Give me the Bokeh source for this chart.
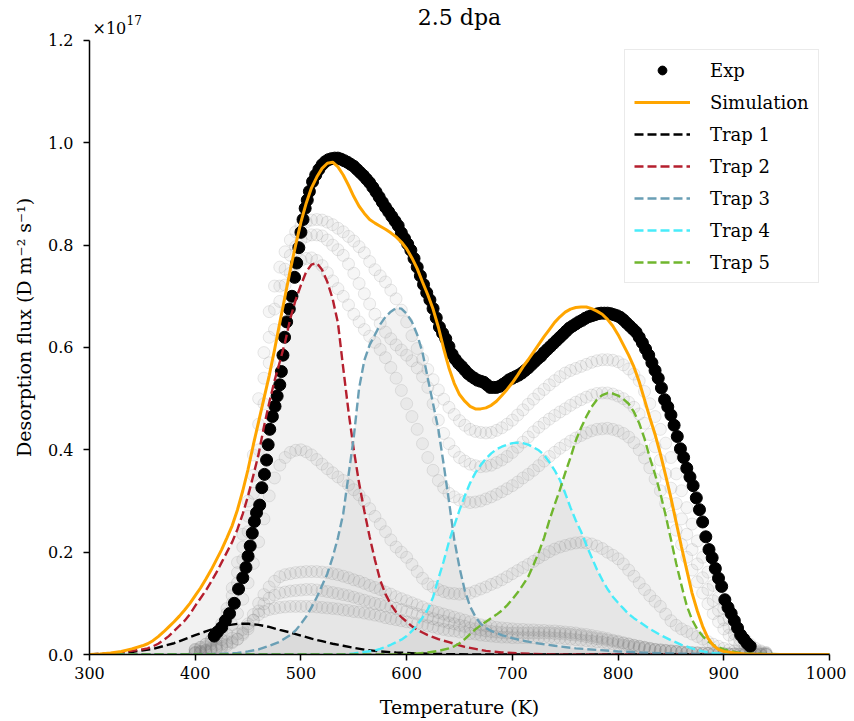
from bokeh.plotting import figure
from bokeh.models import Range1d, Label, Legend, LegendItem, FixedTicker, PrintfTickFormatter
from bokeh.embed import file_html
from bokeh.resources import INLINE

FONT = "DejaVu Serif"

# ---------------- data (values in units of 1e17 D m^-2 s^-1) ----------------
EXP_T = [418, 421, 425, 428.5, 432.5, 437, 441, 445, 448, 450,
         452, 454, 456, 458, 461, 463, 465.5, 467.5, 469, 470.5,
         473, 475.5, 477.5, 480, 481.5, 483, 484.5, 486.5, 489, 491.5,
         494, 496, 498, 500, 502, 504, 506, 508] + list(range(511, 926, 3))
EXP_V = [0.036, 0.044, 0.053, 0.066, 0.080, 0.100, 0.128, 0.150, 0.170, 0.192,
         0.212, 0.237, 0.260, 0.277, 0.292, 0.326, 0.352, 0.380, 0.410, 0.440,
         0.465, 0.485, 0.505, 0.527, 0.553, 0.585, 0.620, 0.650, 0.675, 0.700,
         0.737, 0.765, 0.795, 0.825, 0.850, 0.872, 0.888, 0.905] + [
    0.924, 0.937, 0.948, 0.957, 0.963, 0.967, 0.969, 0.970, 0.970,
    0.968, 0.965, 0.962, 0.958, 0.954, 0.948, 0.942, 0.936, 0.929, 0.922,
    0.913, 0.904, 0.894, 0.884, 0.874, 0.865, 0.856, 0.847, 0.838, 0.824,
    0.813, 0.802, 0.790, 0.774, 0.757, 0.740, 0.723, 0.707, 0.693, 0.676,
    0.658, 0.640, 0.628, 0.617, 0.602, 0.587, 0.577, 0.569, 0.563, 0.556,
    0.549, 0.544, 0.540, 0.536, 0.534, 0.532, 0.527, 0.522, 0.522, 0.522,
    0.524, 0.528, 0.532, 0.537, 0.540, 0.543, 0.546, 0.550, 0.555, 0.560,
    0.566, 0.572, 0.578, 0.583, 0.590, 0.596, 0.602, 0.608, 0.614, 0.620,
    0.626, 0.632, 0.638, 0.642, 0.646, 0.650, 0.653, 0.657, 0.660, 0.662,
    0.664, 0.666, 0.667, 0.667, 0.667, 0.666, 0.664, 0.662, 0.659, 0.654,
    0.648, 0.642, 0.636, 0.630, 0.620, 0.609, 0.597, 0.585, 0.570, 0.555,
    0.540, 0.521, 0.498, 0.484, 0.468, 0.448, 0.426, 0.402, 0.385, 0.364,
    0.347, 0.330, 0.306, 0.283, 0.259, 0.230, 0.205, 0.189, 0.168, 0.149,
    0.133, 0.107, 0.092, 0.080, 0.066, 0.052, 0.038, 0.030, 0.022, 0.016,
]

SIM_T = [300, 310, 320, 330, 340, 350] + list(range(355, 905, 5)) + [910, 920, 940, 1000]
SIM_V = [0.0, 0.001, 0.003, 0.006, 0.011, 0.017] + [
    0.021, 0.027, 0.035, 0.044, 0.054, 0.064, 0.075, 0.087, 0.100, 0.115,
    0.130, 0.147, 0.165, 0.185, 0.205, 0.228, 0.252, 0.283, 0.320, 0.362,
    0.410, 0.455, 0.500, 0.545, 0.595, 0.648, 0.700, 0.752, 0.800, 0.845,
    0.882, 0.912, 0.933, 0.950, 0.960, 0.962, 0.953, 0.937, 0.917, 0.895,
    0.876, 0.862, 0.850, 0.843, 0.837, 0.831, 0.824, 0.816, 0.806, 0.793,
    0.775, 0.754, 0.728, 0.703, 0.675, 0.640, 0.598, 0.560, 0.530, 0.508,
    0.495, 0.485, 0.480, 0.480, 0.482, 0.487, 0.495, 0.506, 0.518, 0.531,
    0.546, 0.562, 0.576, 0.591, 0.606, 0.621, 0.635, 0.649, 0.660, 0.669,
    0.675, 0.678, 0.679, 0.679, 0.676, 0.671, 0.665, 0.655, 0.642, 0.625,
    0.605, 0.585, 0.562, 0.533, 0.498, 0.463, 0.430, 0.392, 0.350, 0.306,
    0.258, 0.210, 0.165, 0.120, 0.085, 0.055, 0.032, 0.018, 0.010, 0.006,
] + [0.003, 0.001, 0.0, 0.0]

TRAP1_T = [300, 320, 340, 360, 380, 400, 410, 420, 430, 440,
           450, 460, 470, 480, 490, 500, 510, 520, 530, 540,
           550, 560, 575, 590, 610, 630, 660, 1000]
TRAP1_V = [0.0, 0.002, 0.005, 0.011, 0.022, 0.038, 0.045, 0.052, 0.057, 0.060,
           0.060, 0.058, 0.054, 0.048, 0.043, 0.037, 0.031, 0.026, 0.021, 0.017,
           0.013, 0.0095, 0.006, 0.004, 0.002, 0.001, 0.0, 0.0]

TRAP2_T = [300, 310, 320, 330, 340, 350] + list(range(355, 685, 5)) + [690, 700, 720, 750, 1000]
TRAP2_V = [0.0, 0.001, 0.002, 0.004, 0.007, 0.010] + [
    0.012, 0.016, 0.021, 0.028, 0.036, 0.046, 0.056, 0.066, 0.079, 0.095,
    0.110, 0.125, 0.142, 0.160, 0.180, 0.200, 0.220, 0.245, 0.275, 0.310,
    0.350, 0.392, 0.445, 0.492, 0.535, 0.572, 0.610, 0.657, 0.693, 0.722,
    0.748, 0.762, 0.765, 0.752, 0.728, 0.695, 0.648, 0.560, 0.475, 0.400,
    0.335, 0.280, 0.230, 0.185, 0.145, 0.118, 0.098, 0.083, 0.073, 0.064,
    0.055, 0.048, 0.043, 0.038, 0.034, 0.030, 0.027, 0.024, 0.021, 0.018,
    0.015, 0.013, 0.011, 0.009, 0.007, 0.006,
] + [0.004, 0.003, 0.001, 0.0, 0.0]

TRAP3_T = [300, 400, 420, 440, 450, 460, 470, 480, 490] + list(range(495, 685, 5)) + \
          [690, 700, 710, 720, 740, 760, 780, 800, 820, 850, 880, 1000]
TRAP3_V = [0.0, 0.0, 0.001, 0.003, 0.006, 0.010, 0.017, 0.025, 0.038] + [
    0.047, 0.060, 0.074, 0.092, 0.112, 0.135, 0.158, 0.190, 0.228, 0.275,
    0.350, 0.425, 0.520, 0.575, 0.605, 0.625, 0.645, 0.660, 0.670, 0.677,
    0.676, 0.666, 0.650, 0.625, 0.590, 0.540, 0.490, 0.440, 0.372, 0.300,
    0.225, 0.170, 0.125, 0.094, 0.074, 0.060, 0.052, 0.046,
] + [0.038, 0.032, 0.027, 0.023, 0.017, 0.012, 0.009, 0.006, 0.004, 0.002, 0.001, 0.0]

TRAP4_T = [300, 540, 550, 560, 570] + list(range(575, 825, 5)) + \
          [830, 840, 850, 860, 870, 880, 890, 900, 1000]
TRAP4_V = [0.0, 0.0, 0.002, 0.005, 0.008] + [
    0.011, 0.015, 0.019, 0.024, 0.029, 0.036, 0.046, 0.058, 0.072, 0.088,
    0.112, 0.148, 0.182, 0.220, 0.252, 0.282, 0.310, 0.335, 0.355, 0.370,
    0.383, 0.393, 0.401, 0.406, 0.410, 0.413, 0.414, 0.413, 0.410, 0.405,
    0.399, 0.390, 0.376, 0.360, 0.341, 0.315, 0.287, 0.262, 0.240, 0.214,
    0.190, 0.166, 0.146, 0.128, 0.113, 0.101, 0.090, 0.079, 0.071, 0.064,
] + [0.050, 0.038, 0.028, 0.019, 0.012, 0.006, 0.003, 0.001, 0.0]

TRAP5_T = [300, 600, 610, 620, 630, 640] + list(range(645, 905, 5)) + [910, 920, 940, 1000]
TRAP5_V = [0.0, 0.0, 0.002, 0.004, 0.007, 0.012] + [
    0.016, 0.022, 0.030, 0.040, 0.049, 0.057, 0.064, 0.071, 0.078, 0.086,
    0.096, 0.108, 0.121, 0.136, 0.152, 0.175, 0.200, 0.228, 0.262, 0.293,
    0.322, 0.355, 0.385, 0.418, 0.443, 0.465, 0.484, 0.498, 0.507, 0.511,
    0.510, 0.506, 0.499, 0.490, 0.474, 0.452, 0.422, 0.385, 0.352, 0.315,
    0.272, 0.225, 0.178, 0.135, 0.095, 0.068, 0.049, 0.036, 0.026, 0.019,
    0.014, 0.010,
] + [0.005, 0.002, 0.001, 0.0]

# faint data of the other damage levels (grey background circles)
GHOST_T = list(range(400, 945, 5))
GHOST_A = [
    0.010, 0.014, 0.020, 0.028, 0.040, 0.060, 0.090, 0.130, 0.180, 0.235,
    0.300, 0.390, 0.500, 0.590, 0.670, 0.720, 0.757, 0.787, 0.810, 0.826,
    0.838, 0.845, 0.849, 0.850, 0.849, 0.845, 0.840, 0.833, 0.826, 0.817,
    0.808, 0.797, 0.785, 0.768, 0.752, 0.740, 0.728, 0.712, 0.695, 0.673,
    0.650, 0.623, 0.598, 0.577, 0.557, 0.537, 0.517, 0.499, 0.483, 0.469,
    0.457, 0.448, 0.440, 0.436, 0.434, 0.433, 0.434, 0.438, 0.443, 0.450,
    0.458, 0.468, 0.478, 0.489, 0.499, 0.509, 0.518, 0.527, 0.535, 0.543,
    0.550, 0.555, 0.559, 0.563, 0.567, 0.571, 0.574, 0.576, 0.576, 0.575,
    0.572, 0.566, 0.558, 0.548, 0.535, 0.514, 0.490, 0.465, 0.440, 0.413,
    0.385, 0.353, 0.320, 0.287, 0.255, 0.222, 0.190, 0.161, 0.135, 0.111,
    0.090, 0.071, 0.055, 0.042, 0.030, 0.020, 0.012, 0.007, 0.004]
GHOST_B = [
    0.010, 0.014, 0.020, 0.026, 0.035, 0.052, 0.080, 0.115, 0.160, 0.210,
    0.270, 0.350, 0.450, 0.540, 0.620, 0.675, 0.720, 0.753, 0.780, 0.797,
    0.810, 0.817, 0.820, 0.820, 0.818, 0.810, 0.800, 0.791, 0.780, 0.763,
    0.745, 0.725, 0.705, 0.685, 0.665, 0.647, 0.630, 0.617, 0.605, 0.595,
    0.585, 0.574, 0.560, 0.543, 0.522, 0.490, 0.458, 0.432, 0.412, 0.397,
    0.385, 0.378, 0.372, 0.369, 0.367, 0.368, 0.370, 0.375, 0.380, 0.387,
    0.395, 0.405, 0.415, 0.425, 0.435, 0.444, 0.452, 0.460, 0.467, 0.474,
    0.480, 0.487, 0.493, 0.498, 0.503, 0.507, 0.510, 0.511, 0.511, 0.509,
    0.505, 0.500, 0.493, 0.483, 0.470, 0.452, 0.430, 0.406, 0.380, 0.353,
    0.325, 0.295, 0.265, 0.235, 0.205, 0.177, 0.150, 0.127, 0.105, 0.086,
    0.068, 0.053, 0.040, 0.029, 0.020, 0.013, 0.008, 0.005, 0.003]
GHOST_C = [
    0.008, 0.011, 0.015, 0.021, 0.030, 0.046, 0.070, 0.100, 0.140, 0.185,
    0.240, 0.315, 0.400, 0.490, 0.570, 0.635, 0.690, 0.722, 0.745, 0.760,
    0.770, 0.774, 0.775, 0.770, 0.760, 0.746, 0.730, 0.715, 0.700, 0.683,
    0.665, 0.650, 0.635, 0.622, 0.610, 0.596, 0.580, 0.561, 0.540, 0.516,
    0.490, 0.465, 0.440, 0.412, 0.385, 0.360, 0.340, 0.326, 0.315, 0.308,
    0.302, 0.299, 0.297, 0.298, 0.300, 0.304, 0.308, 0.313, 0.318, 0.324,
    0.330, 0.337, 0.345, 0.352, 0.360, 0.369, 0.378, 0.387, 0.395, 0.403,
    0.410, 0.417, 0.423, 0.428, 0.433, 0.437, 0.440, 0.441, 0.442, 0.440,
    0.437, 0.432, 0.425, 0.414, 0.400, 0.384, 0.365, 0.343, 0.320, 0.295,
    0.270, 0.243, 0.215, 0.190, 0.165, 0.142, 0.120, 0.099, 0.080, 0.064,
    0.050, 0.038, 0.028, 0.019, 0.012, 0.008, 0.005, 0.003, 0.002]
GHOST_D = [
    0.004, 0.006, 0.008, 0.013, 0.020, 0.029, 0.040, 0.058, 0.080, 0.108,
    0.140, 0.178, 0.220, 0.265, 0.310, 0.345, 0.370, 0.385, 0.395, 0.399,
    0.400, 0.396, 0.390, 0.381, 0.372, 0.363, 0.355, 0.347, 0.340, 0.331,
    0.322, 0.312, 0.300, 0.285, 0.270, 0.255, 0.240, 0.224, 0.210, 0.200,
    0.190, 0.176, 0.162, 0.149, 0.138, 0.132, 0.127, 0.123, 0.120, 0.119,
    0.118, 0.119, 0.120, 0.124, 0.128, 0.132, 0.137, 0.141, 0.146, 0.152,
    0.158, 0.164, 0.170, 0.176, 0.182, 0.189, 0.195, 0.201, 0.206, 0.210,
    0.213, 0.216, 0.218, 0.219, 0.218, 0.216, 0.212, 0.207, 0.200, 0.194,
    0.187, 0.177, 0.165, 0.153, 0.140, 0.127, 0.115, 0.104, 0.094, 0.079,
    0.066, 0.057, 0.050, 0.045, 0.040, 0.035, 0.030, 0.025, 0.020, 0.016,
    0.012, 0.009, 0.007, 0.005, 0.004, 0.003, 0.002, 0.0015, 0.001]
GHOST_E = [
    0.004, 0.006, 0.008, 0.011, 0.015, 0.020, 0.025, 0.032, 0.040, 0.049,
    0.060, 0.078, 0.100, 0.117, 0.132, 0.143, 0.152, 0.156, 0.158, 0.160,
    0.161, 0.162, 0.162, 0.162, 0.161, 0.160, 0.158, 0.156, 0.153, 0.150,
    0.146, 0.143, 0.139, 0.135, 0.131, 0.127, 0.122, 0.118, 0.113, 0.109,
    0.105, 0.101, 0.097, 0.093, 0.089, 0.085, 0.082, 0.079, 0.076, 0.073,
    0.070, 0.067, 0.064, 0.061, 0.058, 0.056, 0.055, 0.053, 0.052, 0.051,
    0.050, 0.049, 0.049, 0.048, 0.048, 0.047, 0.047, 0.046, 0.046, 0.045,
    0.044, 0.043, 0.042, 0.040, 0.039, 0.037, 0.035, 0.033, 0.031, 0.028,
    0.026, 0.023, 0.021, 0.018, 0.016, 0.014, 0.012, 0.010, 0.009, 0.008,
    0.007, 0.006, 0.005, 0.004, 0.004, 0.003, 0.003, 0.002, 0.002, 0.002,
    0.002, 0.001, 0.001, 0.001, 0.001, 0.001, 0.001, 0.000, 0.000]
GHOST_F = [
    0.003, 0.004, 0.006, 0.009, 0.012, 0.016, 0.020, 0.025, 0.030, 0.039,
    0.050, 0.067, 0.085, 0.099, 0.110, 0.116, 0.120, 0.122, 0.124, 0.125,
    0.126, 0.127, 0.127, 0.126, 0.125, 0.123, 0.121, 0.119, 0.117, 0.115,
    0.112, 0.109, 0.106, 0.103, 0.100, 0.098, 0.095, 0.093, 0.090, 0.088,
    0.085, 0.082, 0.079, 0.076, 0.073, 0.070, 0.067, 0.065, 0.062, 0.060,
    0.057, 0.055, 0.052, 0.050, 0.048, 0.046, 0.045, 0.044, 0.043, 0.042,
    0.042, 0.042, 0.042, 0.042, 0.042, 0.042, 0.042, 0.042, 0.041, 0.041,
    0.040, 0.039, 0.038, 0.037, 0.035, 0.033, 0.031, 0.030, 0.028, 0.026,
    0.024, 0.022, 0.020, 0.018, 0.016, 0.014, 0.012, 0.010, 0.009, 0.008,
    0.007, 0.006, 0.005, 0.004, 0.003, 0.003, 0.002, 0.002, 0.002, 0.002,
    0.001, 0.001, 0.001, 0.001, 0.001, 0.000, 0.000, 0.000, 0.000]
GHOST_G = [
    0.002, 0.003, 0.004, 0.007, 0.010, 0.013, 0.017, 0.023, 0.030, 0.042,
    0.055, 0.067, 0.078, 0.084, 0.088, 0.090, 0.092, 0.093, 0.094, 0.094,
    0.094, 0.094, 0.094, 0.093, 0.092, 0.091, 0.090, 0.089, 0.087, 0.086,
    0.084, 0.083, 0.081, 0.079, 0.077, 0.075, 0.072, 0.070, 0.068, 0.066,
    0.064, 0.062, 0.060, 0.058, 0.056, 0.054, 0.051, 0.049, 0.047, 0.046,
    0.044, 0.043, 0.041, 0.040, 0.038, 0.037, 0.036, 0.035, 0.034, 0.034,
    0.033, 0.033, 0.033, 0.033, 0.033, 0.033, 0.033, 0.033, 0.032, 0.032,
    0.031, 0.030, 0.029, 0.028, 0.027, 0.026, 0.025, 0.024, 0.022, 0.021,
    0.019, 0.018, 0.016, 0.015, 0.013, 0.012, 0.010, 0.009, 0.008, 0.007,
    0.006, 0.005, 0.004, 0.004, 0.003, 0.003, 0.002, 0.002, 0.001, 0.001,
    0.001, 0.001, 0.001, 0.000, 0.000, 0.000, 0.000, 0.000, 0.000]
GHOSTS = [GHOST_A, GHOST_B, GHOST_C, GHOST_D, GHOST_E, GHOST_F, GHOST_G]

X_TICKS = [300, 400, 500, 600, 700, 800, 900, 1000]
Y_TICKS = [0.0, 0.2, 0.4, 0.6, 0.8, 1.0, 1.2]
Y_MAX = 1.2

TRAPS = [
    ("Trap 1", TRAP1_T, TRAP1_V, "#000000"),
    ("Trap 2", TRAP2_T, TRAP2_V, "#b51f2e"),
    ("Trap 3", TRAP3_T, TRAP3_V, "#6a9fb5"),
    ("Trap 4", TRAP4_T, TRAP4_V, "#48ecfa"),
    ("Trap 5", TRAP5_T, TRAP5_V, "#70b62e"),
]

# ---------------- figure ----------------
# The plotting frame reaches the top of the canvas so that the title and the
# scale-factor text (drawn as labels) are not clipped; the y axis line itself
# is bounded to 0 .. 1.2 with the axis "bounds" property.
TOP_PAD = 40            # pixels above the 1.2 line
FRAME_H = 655           # frame height in pixels (0 at y=655)
p = figure(width=846, height=720,
           x_range=Range1d(300, 1000),
           y_range=Range1d(0, Y_MAX * FRAME_H / (FRAME_H - TOP_PAD)),
           output_backend="svg", toolbar_location=None,
           min_border_left=89, min_border_right=17,
           min_border_top=0, min_border_bottom=65)
p.outline_line_color = None
p.grid.visible = False

for ax in (p.xaxis[0], p.yaxis[0]):
    ax.axis_line_width = 1.5
    ax.axis_line_color = "black"
    ax.major_tick_line_width = 1.5
    ax.major_tick_line_color = "black"
    ax.major_tick_out = 6
    ax.major_tick_in = 0
    ax.minor_tick_line_color = None
    ax.major_label_text_font = FONT
    ax.major_label_text_font_size = "16px"
    ax.major_label_text_color = "black"
    ax.axis_label_text_font = FONT
    ax.axis_label_text_font_size = "19px"
    ax.axis_label_text_font_style = "normal"
    ax.axis_label_text_color = "black"

p.yaxis.bounds = (0, Y_MAX)
p.xaxis.ticker = FixedTicker(ticks=X_TICKS)
p.yaxis.ticker = FixedTicker(ticks=Y_TICKS)
p.yaxis.formatter = PrintfTickFormatter(format="%.1f")
p.xaxis.axis_label = "Temperature (K)"
p.yaxis.axis_label = "Desorption flux (D m\u207b\u00b2 s\u207b\u00b9)"
p.xaxis.major_label_standoff = 6
p.yaxis.major_label_standoff = 10
p.xaxis.axis_label_standoff = 14
p.yaxis.axis_label_standoff = 10

# shaded areas under each trap contribution
for name, tt, vv, col in TRAPS:
    p.varea(x=tt, y1=[0.0] * len(tt), y2=vv, fill_color="#808080", fill_alpha=0.1)

# other damage levels, faint
for g in GHOSTS:
    p.scatter(GHOST_T, g, size=12, marker="circle",
              fill_color="#808080", fill_alpha=0.07,
              line_color="#808080", line_alpha=0.18, line_width=1)

r_exp = p.scatter(EXP_T, EXP_V, size=12, marker="circle",
                  fill_color="black", line_color="black")

trap_items = []
for name, tt, vv, col in TRAPS:
    r = p.line(tt, vv, line_color=col, line_width=2.4, line_dash="9 4")
    trap_items.append(LegendItem(label=name, renderers=[r]))

r_sim = p.line(SIM_T, SIM_V, line_color="#ffa500", line_width=3)

# legend: bottom-left corner given in screen pixels from the frame's bottom-left
legend = Legend(items=[LegendItem(label="Exp", renderers=[r_exp]),
                       LegendItem(label="Simulation", renderers=[r_sim])] + trap_items,
                location=(535, 371), margin=0, padding=9, spacing=10,
                glyph_width=56, glyph_height=22, label_height=22,
                label_standoff=20,
                label_text_font=FONT, label_text_font_size="18px",
                label_text_color="black",
                border_line_color="#d6d6d6", border_line_width=1,
                background_fill_color="white", background_fill_alpha=0.85)
p.add_layout(legend)

# title and the scale factor of the y axis
p.add_layout(Label(x=650, y=Y_MAX, y_offset=23, text="2.5 dpa", text_align="center",
                   text_font=FONT, text_font_size="22px", text_color="black",
                   text_baseline="alphabetic"))
p.add_layout(Label(x=300, y=Y_MAX, x_offset=3, y_offset=12, text="\u00d710",
                   text_font=FONT, text_font_size="16px", text_color="black",
                   text_baseline="alphabetic"))
p.add_layout(Label(x=300, y=Y_MAX, x_offset=37, y_offset=20, text="17",
                   text_font=FONT, text_font_size="12px", text_color="black",
                   text_baseline="alphabetic"))

open("out.html", "w").write(file_html(p, INLINE))
